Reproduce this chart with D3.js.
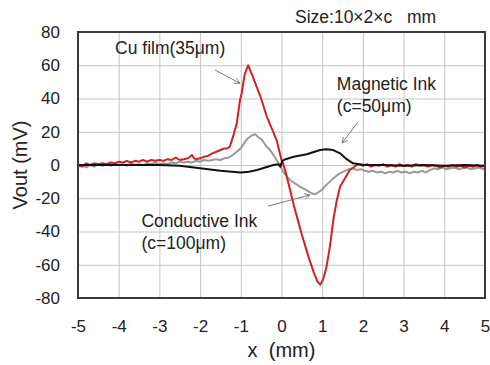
<!DOCTYPE html>
<html>
<head>
<meta charset="utf-8">
<script src="https://cdn.jsdelivr.net/npm/d3@7"></script>
<style>
  body { margin: 0; background: #fff; }
  text { font-family: "Liberation Sans", Arial, sans-serif; }
</style>
</head>
<body>
<div id="chart"></div>
<script>
// Tick values
var xTicks = [-5, -4, -3, -2, -1, 0, 1, 2, 3, 4, 5];
var yTicks = [-80, -60, -40, -20, 0, 20, 40, 60, 80];

// Cu film (35um) - red
var cuX = [-5, -4.9, -4.8, -4.7, -4.6, -4.5, -4.4, -4.3, -4.2, -4.1, -4, -3.9, -3.8, -3.7, -3.6, -3.5, -3.4, -3.3, -3.2, -3.1, -3, -2.9, -2.8, -2.7, -2.6, -2.5, -2.4, -2.3, -2.2, -2.15, -2.1, -2, -1.9, -1.8, -1.7, -1.6, -1.5, -1.4, -1.33, -1.27, -1.18, -1.1, -1.02, -0.98, -0.9, -0.82, -0.72, -0.61, -0.5, -0.36, -0.24, -0.12, -0.06, 0, 0.05, 0.1, 0.2, 0.3, 0.4, 0.5, 0.6, 0.7, 0.8, 0.88, 0.95, 1.02, 1.1, 1.19, 1.28, 1.36, 1.44, 1.56, 1.68, 1.85, 1.9, 2, 2.1, 2.2, 2.3, 2.4, 2.5, 2.6, 2.7, 2.8, 2.9, 3, 3.1, 3.2, 3.3, 3.4, 3.5, 3.6, 3.7, 3.8, 3.9, 4, 4.1, 4.2, 4.3, 4.4, 4.5, 4.6, 4.7, 4.8, 4.9, 5];
var cuV = [0, -1, 1, 0, 1, 0.5, 1, 0.5, 1.5, 1, 2, 1.5, 2.5, 1.5, 2.5, 2, 3, 2, 3, 2.5, 3, 2.5, 3.5, 3, 4.5, 3, 3.5, 4, 6, 4, 3.5, 4, 5, 5.5, 7, 8, 9, 10, 10, 11, 18, 25, 39, 43, 55, 60, 54, 47, 40, 29, 22, 15, 9, 3, 0, -4, -14, -24, -33, -42, -50, -58, -65, -70, -72, -69, -62, -49, -32, -21, -13, -8, -3, 0, 0.5, -0.5, 0.5, -1, 0, -0.5, 0.5, -1, 0, -1, 0.5, -0.5, 0, -1, 0.5, -0.5, 0, -1, 0, -0.5, -1.5, -0.5, -1, 0, -1, -0.5, -1.5, -0.5, -1, 0, -1, -0.5];

// Conductive Ink (c=100um) - gray
var condX = [-5, -4.9, -4.8, -4.7, -4.6, -4.5, -4.4, -4.3, -4.2, -4.1, -4, -3.9, -3.8, -3.7, -3.6, -3.5, -3.4, -3.3, -3.2, -3.1, -3, -2.9, -2.8, -2.7, -2.6, -2.5, -2.4, -2.3, -2.2, -2.1, -2, -1.9, -1.8, -1.7, -1.6, -1.5, -1.4, -1.3, -1.2, -1.1, -1, -0.92, -0.85, -0.75, -0.65, -0.58, -0.5, -0.45, -0.38, -0.28, -0.2, -0.12, -0.04, 0.04, 0.12, 0.21, 0.3, 0.45, 0.6, 0.74, 0.82, 0.9, 0.99, 1.1, 1.19, 1.3, 1.4, 1.52, 1.65, 1.76, 1.85, 1.95, 2.05, 2.15, 2.25, 2.35, 2.45, 2.55, 2.65, 2.75, 2.85, 2.95, 3.05, 3.15, 3.25, 3.35, 3.45, 3.55, 3.65, 3.75, 3.85, 3.95, 4.05, 4.15, 4.25, 4.35, 4.45, 4.55, 4.65, 4.75, 4.85, 4.95, 5];
var condV = [-1, 0, -1.5, 0, -1, 0.5, -0.5, 0.5, -0.5, 1, 0, 0.5, -0.5, 1, 0, 0.5, 0, 1, 0.5, 1.5, 0.5, 1, 0.5, 1.5, 1, 2, 1.5, 2, 1.5, 2.5, 2, 3, 2.5, 3, 3.5, 3, 4, 4.5, 6, 8, 10, 13, 15.5, 17.5, 18.6, 17, 15.5, 14, 11.5, 9, 6, 3, 0, -4, -6.5, -9, -10.5, -13, -15, -17, -17.6, -16.5, -15, -12, -10, -7.5, -5.5, -4, -2.5, -2, -3, -2.5, -3.5, -4, -3.5, -4.5, -4, -5, -4, -4.5, -3.5, -4.5, -4, -5, -4, -4.5, -3.5, -4.5, -3, -2, -2.5, -1.5, -2.5, -2, -1.5, -2.5, -2, -1.5, -2.5, -2, -1.5, -2.5, -2];

// Magnetic Ink (c=50um) - black
var magX = [-5, -4, -3, -2.5, -2, -1.5, -1, -0.8, -0.6, -0.4, -0.2, -0.08, -0.03, 0.02, 0.1, 0.3, 0.62, 0.95, 1.1, 1.27, 1.44, 1.6, 1.76, 1.9, 2.05, 2.5, 3, 3.5, 4, 4.5, 5];
var magV = [0, 0, 0, -0.5, -2, -3.5, -4.5, -4, -3, -1.5, 0, 0.5, -1, 2.5, 3.5, 5, 6.5, 9, 9.5, 9, 7, 3.5, 1, 0.5, 0, 0, -0.5, 0, -0.5, 0, -0.5];

var width = 490, height = 365;
var margin = {top: 32, right: 5, bottom: 67, left: 78};

var svg = d3.select("#chart").append("svg")
    .attr("width", width)
    .attr("height", height);

var x = d3.scaleLinear().domain([-5, 5]).range([margin.left, width - margin.right]);
var y = d3.scaleLinear().domain([-80, 80]).range([height - margin.bottom, margin.top]);

// plain hyphen for negative labels, like the original
var fmt = function(d) { return String(d); };

// Grid lines
svg.append("g")
    .attr("transform", "translate(0," + (height - margin.bottom) + ")")
    .call(d3.axisBottom(x).tickValues(xTicks).tickSize(-(height - margin.top - margin.bottom)).tickFormat(""))
    .call(function(g) { g.select(".domain").remove(); })
    .selectAll("line").attr("stroke", "#c4c4c4");

svg.append("g")
    .attr("transform", "translate(" + margin.left + ",0)")
    .call(d3.axisLeft(y).tickValues(yTicks).tickSize(-(width - margin.left - margin.right)).tickFormat(""))
    .call(function(g) { g.select(".domain").remove(); })
    .selectAll("line").attr("stroke", "#c4c4c4");

// Tick labels
svg.append("g")
    .attr("transform", "translate(0," + (height - margin.bottom) + ")")
    .call(d3.axisBottom(x).tickValues(xTicks).tickFormat(fmt).tickSize(0).tickPadding(22))
    .call(function(g) { g.select(".domain").remove(); })
    .selectAll("text").attr("font-size", 17).attr("fill", "#222").style("font-family", "Liberation Sans, Arial, sans-serif");

svg.append("g")
    .attr("transform", "translate(" + margin.left + ",0)")
    .call(d3.axisLeft(y).tickValues(yTicks).tickFormat(fmt).tickSize(0).tickPadding(18))
    .call(function(g) { g.select(".domain").remove(); })
    .selectAll("text").attr("font-size", 17).attr("fill", "#222").style("font-family", "Liberation Sans, Arial, sans-serif");

// Curves
var line = d3.line()
    .x(function(d) { return x(d[0]); })
    .y(function(d) { return y(d[1]); });

var series = [
  {xs: condX, vs: condV, color: "#999999"},
  {xs: cuX, vs: cuV, color: "#d42020"},
  {xs: magX, vs: magV, color: "#111111"}
];

series.forEach(function(s) {
  svg.append("path")
      .datum(d3.zip(s.xs, s.vs))
      .attr("fill", "none")
      .attr("stroke", s.color)
      .attr("stroke-width", 2)
      .attr("stroke-linejoin", "round")
      .attr("d", line);
});

// Plot border
svg.append("rect")
    .attr("x", margin.left)
    .attr("y", margin.top)
    .attr("width", width - margin.left - margin.right)
    .attr("height", height - margin.top - margin.bottom)
    .attr("fill", "none")
    .attr("stroke", "#3a3a3a")
    .attr("stroke-width", 2);

// Axis titles
svg.append("text")
    .attr("x", x(0))
    .attr("y", 357)
    .attr("text-anchor", "middle")
    .attr("font-size", 20)
    .attr("fill", "#222")
    .style("white-space", "pre")
    .text("x  (mm)");

svg.append("text")
    .attr("transform", "translate(27," + y(0) + ") rotate(-90)")
    .attr("text-anchor", "middle")
    .attr("font-size", 20)
    .attr("fill", "#222")
    .text("Vout (mV)");

// Annotations
svg.append("text")
    .attr("x", 295).attr("y", 23)
    .attr("font-size", 17.5).attr("fill", "#222")
    .style("white-space", "pre")
    .text("Size:10\u00d72\u00d7c   mm");

var labels = [
  {lines: ["Cu film(35\u03bcm)"], x: -4.09, y: 66.8},
  {lines: ["Magnetic Ink", "(c=50\u03bcm)"], x: 1.36, y: 45},
  {lines: ["Conductive Ink", "(c=100\u03bcm)"], x: -3.44, y: -37.5}
];

labels.forEach(function(l) {
  l.lines.forEach(function(t, i) {
    svg.append("text")
        .attr("x", x(l.x))
        .attr("y", y(l.y) + i * 22)
        .attr("font-size", 17.5)
        .attr("fill", "#222")
        .text(t);
  });
});

svg.append("defs").append("marker")
    .attr("id", "arr")
    .attr("viewBox", "0 0 10 10")
    .attr("refX", 9).attr("refY", 5)
    .attr("markerWidth", 7).attr("markerHeight", 7)
    .attr("orient", "auto")
  .append("path")
    .attr("d", "M1,1 L9,5 L1,9")
    .attr("fill", "none")
    .attr("stroke", "#777")
    .attr("stroke-width", 1.2);

var arrows = [
  [-1.63, 57.1, -1.02, 49.1],
  [1.88, 25.9, 1.49, 13.2],
  [-0.33, -24.7, 0.70, -18]
];

arrows.forEach(function(a) {
  svg.append("line")
      .attr("x1", x(a[0])).attr("y1", y(a[1]))
      .attr("x2", x(a[2])).attr("y2", y(a[3]))
      .attr("stroke", "#777")
      .attr("stroke-width", 1)
      .attr("marker-end", "url(#arr)");
});
</script>
</body>
</html>
